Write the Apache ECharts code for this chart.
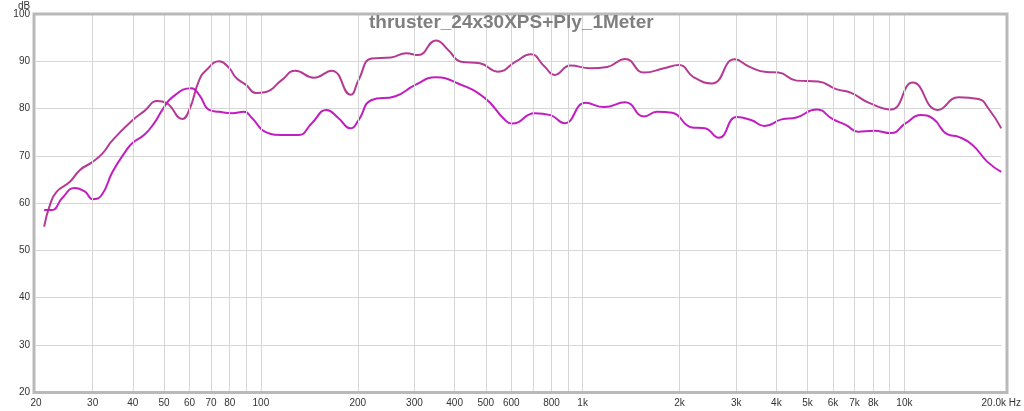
<!DOCTYPE html>
<html><head><meta charset="utf-8">
<script src="https://cdn.jsdelivr.net/npm/echarts@6/dist/echarts.min.js"></script>
<style>html,body{margin:0;padding:0;background:#fff}#c{width:1024px;height:411px}</style>
</head><body><div id="c"></div>
<script>
const titleText = 'thruster_24x30XPS+Ply_1Meter';
const yTicks = [20, 30, 40, 50, 60, 70, 80, 90, 100];
const gridFreqs = [30,40,50,60,70,80,90,100,200,300,400,500,600,700,800,900,1000,2000,3000,4000,5000,6000,7000,8000,9000,10000];
const labelFreqs = [20,30,40,50,60,70,80,100,200,300,400,500,600,800,1000,2000,3000,4000,5000,6000,7000,8000,10000,20000];
const labelTexts = ['20','30','40','50','60','70','80','100','200','300','400','500','600','800','1k','2k','3k','4k','5k','6k','7k','8k','10k','20.0k Hz'];

const freqA = [21.2,22.1,23.2,25.5,27.4,30,32.2,34.6,39.9,43.5,47.7,50.8,57,59.9,64.3,67.6,74.2,79.6,83.7,89.9,96.5,103.6,116,128,146,166,190,201,221,254,283,308,350,382,419,479,545,619,689,761,818,916,1057,1192,1356,1552,1790,1991,2215,2520,2968,3302,3728,4060,4617,5398,6138,6830,7764,9078,10617,12688,14736,16992,18246,20000];
const dbA = [55,59.6,62.4,64.5,67,68.7,70.5,73.3,77.5,79.5,81.6,81.2,77.8,79.7,86,88.1,90,88.6,86.5,85,83.3,83.5,86,88,86.5,88,82.9,86,90.6,90.8,91.7,91.3,94.4,92.4,89.9,89.6,87.8,89.9,91.5,88.9,87.1,89.1,88.5,88.8,90.5,87.6,88.5,89.2,86.6,85.3,90.4,88.8,87.7,87.6,85.9,85.7,84.1,83.3,81.2,79.8,85.5,79.7,82.4,82,80,75.8];

const freqB = [21.2,22.4,24.1,26.4,28.4,30,32,34.6,38.2,39.9,43.5,46.7,49.4,53.1,60.8,64.3,69.1,74.2,81.4,88.6,93.8,103.6,116,131,144,160,174,190,201,221,262,302,350,410,497,573,606,709,794,878,1020,1167,1356,1552,1703,1895,2184,2396,2649,3011,3350,3675,4148,4617,5323,6008,6591,7178,8046,9078,10102,11242,12244,13626,14736,16280,18116,20000];
const dbB = [58.5,58.5,61,63.2,62.4,60.8,61.7,66.6,71.2,72.7,74.5,77,79.7,82.4,84.3,82.9,79.7,79.3,79,79.3,78,75,74.4,74.4,76.9,79.7,78,75.8,77.5,81.8,82.6,85,86.6,85.3,82.2,77.6,76.8,79,78.6,76.9,81.2,80.3,81.3,78.3,79.3,79.1,76,75.8,73.8,78.2,77.5,76.3,77.7,78.1,79.8,77.7,76.5,75.1,75.3,74.8,76.9,78.6,77.9,74.5,74,72.3,68.7,66.6];

const zip = (f, d) => f.map((v, i) => [v, d[i]]);
const chart = echarts.init(document.getElementById('c'));
const FONT = '"Liberation Sans", Arial, sans-serif';
chart.setOption({
  animation: false,
  grid: { left: 36, right: 18, top: 14, bottom: 19, containLabel: false },
  xAxis: {
    type: 'log', logBase: 10, min: 20, max: 20000,
    axisLine: { show: false }, axisTick: { show: false }, splitLine: { show: false },
    axisLabel: {
      customValues: labelFreqs, margin: 6, fontSize: 10, color: '#333', fontFamily: FONT,
      formatter: v => { const i = labelFreqs.findIndex(f => Math.abs(f - v) / f < 1e-3); return i >= 0 ? labelTexts[i] : ''; }
    }
  },
  yAxis: {
    type: 'value', min: 20, max: 100, interval: 10,
    axisLine: { show: false }, axisTick: { show: false },
    splitLine: { lineStyle: { color: '#d6d6d6', width: 1 } },
    axisLabel: { margin: 6, fontSize: 10, color: '#333', fontFamily: FONT, customValues: yTicks }
  },
  series: [
    { type: 'line', data: [[20, 20]], symbol: 'none', lineStyle: { opacity: 0 }, z: 1, silent: true,
      markLine: { silent: true, symbol: 'none', label: { show: false },
        lineStyle: { color: '#d6d6d6', width: 1, type: 'solid' },
        data: gridFreqs.map(f => ({ xAxis: f })) } },
    { type: 'line', data: zip(freqA, dbA), smooth: 0.5, symbol: 'none', z: 3,
      lineStyle: { color: '#b43a93', width: 2 } },
    { type: 'line', data: zip(freqB, dbB), smooth: 0.5, symbol: 'none', z: 4,
      lineStyle: { color: '#c01ec0', width: 2 } }
  ],
  graphic: [
    { type: 'rect', shape: { x: 34, y: 14, width: 973, height: 378.5 }, style: { fill: null, stroke: '#b9b9b9', lineWidth: 3 }, z: 10, silent: true },
    { type: 'text', x: 369, y: 13, style: { text: titleText, font: 'bold 19px ' + FONT, fill: '#7f7f7f' }, z: 11 },
    { type: 'text', x: 18, y: 1, style: { text: 'dB', font: '10px ' + FONT, fill: '#333' }, z: 11 }
  ]
});
</script></body></html>
